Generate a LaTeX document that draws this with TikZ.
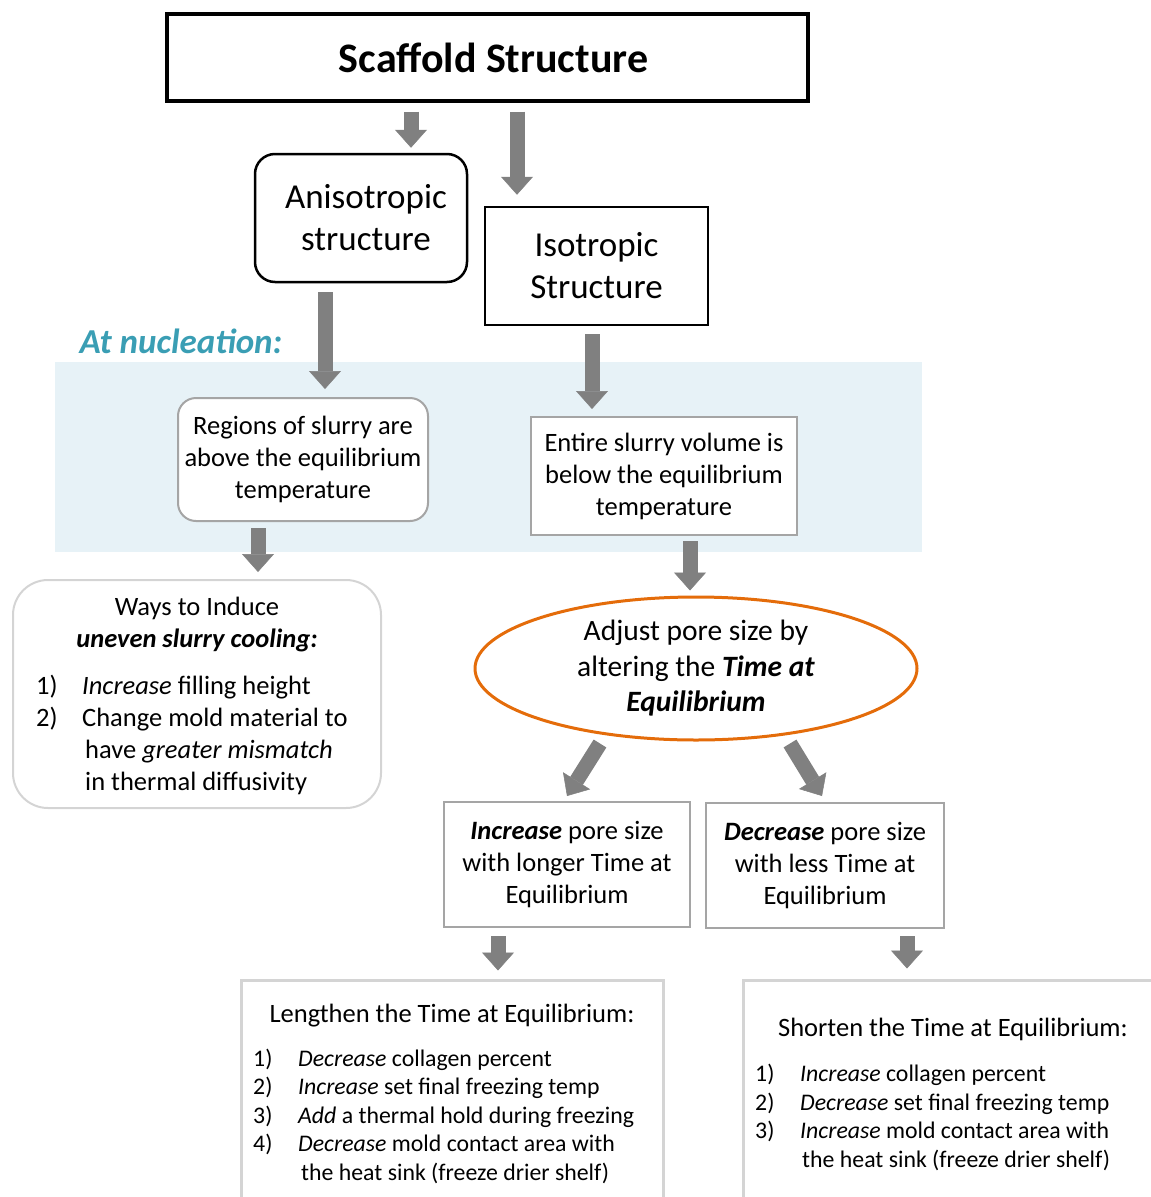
\documentclass[tikz,border=0pt]{standalone}
\usepackage{fontspec}
\setmainfont{Carlito}
\usetikzlibrary{shapes.geometric,arrows.meta}

\definecolor{nucleteal}{RGB}{58,158,180}
\definecolor{bandblue}{RGB}{231,242,247}
\definecolor{ellorange}{RGB}{228,108,10}
\definecolor{boxgray}{RGB}{165,165,165}
\definecolor{paleborder}{RGB}{212,212,212}
\definecolor{arrowgray}{RGB}{128,128,128}

\newcommand{\setfs}[2]{\fontsize{#1}{#2}\selectfont}

\begin{document}
\begin{tikzpicture}[x=1pt,y=-1pt,
	blockarrow/.style={line width=15pt,draw=arrowgray,-{Triangle[width=32pt,length=18pt,line width=0.5pt]}},
	blackbox/.style={draw=black,line width=2.5pt,align=center,inner sep=0pt},
	graybox/.style={draw=boxgray,line width=2pt,fill=white,align=center,inner sep=0pt,font=\setfs{26.5}{32}},
	palebox/.style={draw=paleborder,line width=2.5pt,inner sep=0pt},
	listtext/.style={align=left,anchor=west,inner sep=0pt}]
	
	\useasboundingbox (0,0) rectangle (1151,1197);
	\clip (0,0) rectangle (1151,1197);
	
	%NUCLEATION BAND
	\fill[bandblue] (55,362) rectangle (922,552);
	\node[font=\bfseries\itshape\setfs{35}{40},text=nucleteal] (nucl) at (181,341) {At nucleation:};
	
	%TOP BOXES
	\node[blackbox,line width=3.3pt,minimum width=641pt,minimum height=87pt,font=\bfseries\setfs{42}{48}] (scaffold) at (487.5,57.5) {\hspace*{12pt}Scaffold Structure};
	\node[blackbox,rounded corners=20pt,minimum width=212pt,minimum height=128pt,font=\setfs{35}{42}] (anis) at (361,218) {\hspace*{10pt}Anisotropic\\\hspace*{10pt}structure};
	\node[blackbox,minimum width=223pt,minimum height=118pt,font=\setfs{35}{42}] (iso) at (596.5,266) {Isotropic\\Structure};
	
	%AT NUCLEATION
	\node[graybox,rounded corners=18pt,minimum width=250pt,minimum height=123pt] (regions) at (303,459.5) {Regions of slurry are\\above the equilibrium\\temperature};
	\node[graybox,minimum width=266pt,minimum height=118pt] (entire) at (664,476) {Entire slurry volume is\\below the equilibrium\\temperature};
	
	%UNEVEN COOLING
	\node[palebox,line width=2pt,rounded corners=35pt,minimum width=368pt,minimum height=228pt] (ways) at (197,694) {};
	\node[align=center,font=\setfs{26.5}{32}] (waystitle) at (197,625) {Ways to Induce\\\textbf{\textit{uneven slurry cooling:}}};
	\node[listtext,font=\setfs{26.5}{32}] (wayslist) at (36,735) {%
		\makebox[46pt][l]{1)}\textit{Increase} filling height\\
		\makebox[46pt][l]{2)}Change mold material to\\
		\hspace*{49pt}have \textit{greater mismatch}\\
		\hspace*{49pt}in thermal diffusivity};
	
	%TIME AT EQUILIBRIUM
	\node[ellipse,draw=ellorange,line width=3pt,minimum width=442pt,minimum height=143pt,inner sep=0pt,align=center,font=\setfs{29.5}{35.5}] (ell) at (696,668.5) {Adjust pore size by\\altering the \textbf{\textit{Time at}}\\\textbf{\textit{Equilibrium}}};
	\node[graybox,minimum width=246pt,minimum height=125pt] (incr) at (567,864.5) {\textbf{\textit{Increase}} pore size\\with longer Time at\\Equilibrium};
	\node[graybox,minimum width=238pt,minimum height=125pt] (decr) at (825,865.5) {\textbf{\textit{Decrease}} pore size\\with less Time at\\Equilibrium};
	
	%LENGTHEN / SHORTEN
	\node[palebox,line width=3pt,minimum width=422pt,minimum height=235pt] (len) at (452,1097.5) {};
	\node[font=\setfs{26.5}{32}] (lentitle) at (452,1016) {Lengthen the Time at Equilibrium:};
	\node[listtext,font=\setfs{23.8}{28.5}] (lenlist) at (253,1116) {%
		\makebox[45pt][l]{1)}\textit{Decrease} collagen percent\\
		\makebox[45pt][l]{2)}\textit{Increase} set final freezing temp\\
		\makebox[45pt][l]{3)}\textit{Add} a thermal hold during freezing\\
		\makebox[45pt][l]{4)}\textit{Decrease} mold contact area with\\
		\hspace*{48pt}the heat sink (freeze drier shelf)};
	
	\node[palebox,line width=3pt,minimum width=422pt,minimum height=235pt] (sho) at (954,1097.5) {};
	\node[font=\setfs{26.5}{32}] (shotitle) at (953,1029) {Shorten the Time at Equilibrium:};
	\node[listtext,font=\setfs{23.8}{28.5}] (sholist) at (755,1117.5) {%
		\makebox[45pt][l]{1)}\textit{Increase} collagen percent\\
		\makebox[45pt][l]{2)}\textit{Decrease} set final freezing temp\\
		\makebox[45pt][l]{3)}\textit{Increase} mold contact area with\\
		\hspace*{47pt}the heat sink (freeze drier shelf)};
	
	%ARROWS
	\draw[blockarrow,shorten <=9pt,shorten >=5pt] ([xshift=50pt]scaffold.south -| anis.north) -- ([xshift=50pt]anis.north);
	\draw[blockarrow,shorten <=9pt,shorten >=11pt] ([xshift=-79.5pt]scaffold.south -| iso.north) -- ([xshift=-79.5pt]iso.north);
	\draw[blockarrow,shorten <=9pt,shorten >=8pt] ([xshift=-36pt]anis.south) -- ([xshift=-36pt]anis.south |- regions.north);
	\draw[blockarrow,shorten <=8pt,shorten >=7pt] ([xshift=-4.5pt]iso.south) -- ([xshift=-4.5pt]iso.south |- entire.north);
	\draw[blockarrow,shorten <=6pt,shorten >=7pt] ([xshift=-45pt]regions.south) -- ([xshift=-45pt]regions.south |- ways.north);
	\draw[blockarrow,shorten <=5pt,shorten >=5pt] ([xshift=26pt]entire.south) -- ([xshift=26pt]entire.south |- ell.north);
	\draw[blockarrow] ([xshift=-96pt,yshift=-2pt]ell.south) -- ([yshift=5pt]incr.north);
	\draw[blockarrow] ([xshift=94pt,yshift=-2pt]ell.south) -- ([xshift=-3pt,yshift=6pt]decr.north);
	\draw[blockarrow,shorten <=8pt,shorten >=8pt] ([xshift=-69pt]incr.south) -- ([xshift=-69pt]incr.south |- len.north);
	\draw[blockarrow,shorten <=7pt,shorten >=10pt] ([xshift=82pt]decr.south) -- ([xshift=82pt]decr.south |- sho.north);
\end{tikzpicture}
\end{document}
